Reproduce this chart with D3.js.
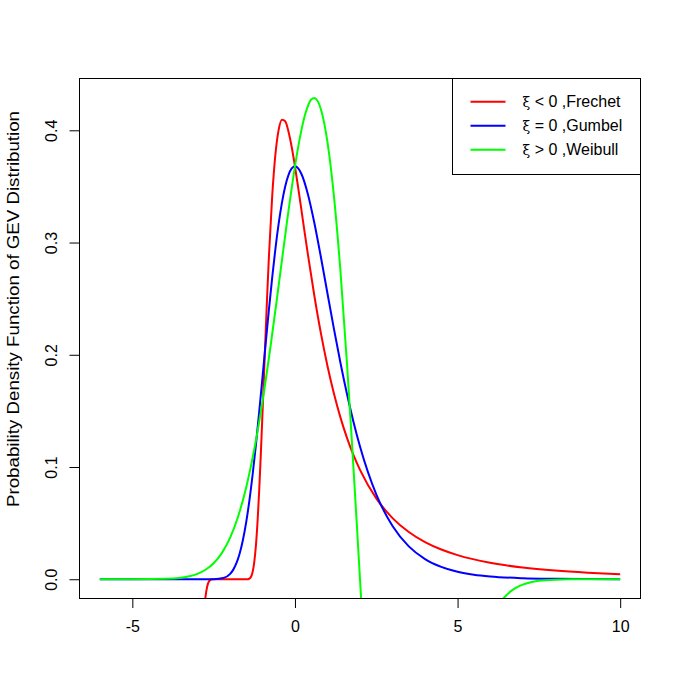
<!DOCTYPE html>
<html>
<head>
<meta charset="utf-8">
<script src="https://cdn.jsdelivr.net/npm/d3@7"></script>
<style>
  html, body { margin: 0; padding: 0; background: #ffffff; }
  svg { display: block; }
  text { font-family: "Liberation Sans", Arial, sans-serif; font-size: 16px; fill: #000; }
</style>
</head>
<body>
<div id="chart"></div>
<script>
// ---------- data ----------
const xTicks = [-5, 0, 5, 10];
const yTicks = [0.0, 0.1, 0.2, 0.3, 0.4];
const xLim = [-6, 10];
const yLim = [0, 0.429];

const frechetX = [-6, -5, -4, -3.5, -3, -2.9, -2.8, -2.75, -2.7, -2.65, -2.6, -2.55, -2.5, -2.4, -2, -1.6, -1.5, -1.45, -1.4, -1.35, -1.3, -1.25, -1.2, -1.15, -1.1, -1.05, -1.0, -0.95, -0.9, -0.85, -0.8, -0.7, -0.6, -0.5, -0.4, -0.3, -0.2, -0.1, 0, 0.1, 0.2, 0.3, 0.4, 0.6, 0.8, 1.0, 1.2, 1.4, 1.6, 1.8, 2.0, 2.5, 3, 3.5, 4, 4.5, 5, 6, 7, 8, 9, 10];
const frechetY = [-0.0974, -0.19, -0.3679, -0.4006, -0.1465, -0.0787, -0.0302, -0.01548, -0.00665, -0.00225, -0.00055, -0.000087, -0.000007, 0, 0, 0, 0.000007, 0.000087, 0.00055, 0.00225, 0.00665, 0.01548, 0.0302, 0.05136, 0.0787, 0.111, 0.1465, 0.1834, 0.2204, 0.2555, 0.2879, 0.3412, 0.3787, 0.4006, 0.4094, 0.4081, 0.399, 0.3851, 0.3679, 0.3487, 0.3288, 0.3087, 0.289, 0.2519, 0.2188, 0.19, 0.1652, 0.144, 0.126, 0.1105, 0.0974, 0.0721, 0.0545, 0.0421, 0.0331, 0.0265, 0.0215, 0.01468, 0.01045, 0.00769, 0.00582, 0.0045];

const gumbelX = [-6, -4, -3, -2.5, -2.2, -2, -1.9, -1.8, -1.7, -1.6, -1.5, -1.4, -1.3, -1.2, -1.1, -1.0, -0.9, -0.8, -0.7, -0.6, -0.5, -0.4, -0.3, -0.2, -0.1, 0, 0.1, 0.2, 0.4, 0.6, 0.8, 1.0, 1.2, 1.4, 1.6, 1.8, 2.0, 2.5, 3, 3.5, 4, 4.5, 5, 5.5, 6, 7, 8, 9, 10];
const gumbelY = [0, 0, 0.00000004, 0.000062, 0.00109, 0.00457, 0.00835, 0.01426, 0.02297, 0.035, 0.0507, 0.0703, 0.09355, 0.12, 0.1489, 0.1794, 0.2102, 0.2404, 0.2688, 0.2946, 0.317, 0.3356, 0.35, 0.3601, 0.366, 0.3679, 0.3661, 0.3611, 0.3429, 0.317, 0.2867, 0.2546, 0.2229, 0.1927, 0.165, 0.1401, 0.1182, 0.0756, 0.0474, 0.0293, 0.018, 0.011, 0.00669, 0.00407, 0.00248, 0.00091, 0.000335, 0.000123, 0.0000454];

const weibullX = [-6, -5, -4, -3.5, -3.25, -3, -2.75, -2.5, -2.25, -2, -1.75, -1.5, -1.25, -1, -0.75, -0.5, -0.25, 0, 0.1, 0.2, 0.3, 0.4, 0.5, 0.6, 0.7, 0.8, 0.9, 1.0, 1.2, 1.4, 1.6, 1.75, 1.9, 2.0, 2.1, 2.25, 2.5, 3, 4, 5, 5.5, 6, 6.25, 6.5, 6.75, 7, 7.25, 7.5, 8, 8.5, 9, 10];
const weibullY = [0, 0.000017, 0.00037, 0.00143, 0.00267, 0.00483, 0.00843, 0.01424, 0.02325, 0.0366, 0.0557, 0.0818, 0.1159, 0.1581, 0.2076, 0.262, 0.3174, 0.3679, 0.3853, 0.4004, 0.4127, 0.4218, 0.4274, 0.4288, 0.426, 0.4186, 0.4064, 0.3894, 0.3409, 0.2742, 0.1922, 0.1231, 0.0499, 0, -0.0499, -0.1231, -0.2348, -0.3894, -0.3679, -0.1581, -0.0818, -0.0366, -0.02325, -0.01424, -0.00843, -0.00483, -0.00267, -0.00143, -0.00037, -0.000084, -0.000017, 0];

const seriesNames = ["Frechet", "Gumbel", "Weibull"];
const seriesRel = ["<", "=", ">"];
const seriesColors = ["#ff0000", "#0000ff", "#00ff00"];
const yTitle = "Probability Density Function of GEV Distribution";

// ---------- layout ----------
const W = 681, H = 696;
const box = { left: 79, right: 641, top: 78.5, bottom: 598.5 };

const svg = d3.select("#chart").append("svg").attr("width", W).attr("height", H);

function expand(lim) { const d = (lim[1] - lim[0]) * 0.04; return [lim[0] - d, lim[1] + d]; }

const x = d3.scaleLinear().domain(expand(xLim)).range([box.left, box.right]);
const y = d3.scaleLinear().domain(expand(yLim)).range([box.bottom, box.top]);

svg.append("clipPath").attr("id", "plotclip")
  .append("rect").attr("x", box.left).attr("y", box.top)
  .attr("width", box.right - box.left).attr("height", box.bottom - box.top);

const line = d3.line().x(d => x(d[0])).y(d => y(d[1])).curve(d3.curveMonotoneX);

const series = [
  { xs: frechetX, ys: frechetY, color: seriesColors[0] },
  { xs: gumbelX, ys: gumbelY, color: seriesColors[1] },
  { xs: weibullX, ys: weibullY, color: seriesColors[2] }
];

const g = svg.append("g").attr("clip-path", "url(#plotclip)");
series.forEach(s => {
  g.append("path")
    .datum(s.xs.map((v, i) => [v, s.ys[i]]))
    .attr("fill", "none")
    .attr("stroke", s.color)
    .attr("stroke-width", 2)
    .attr("stroke-linejoin", "round")
    .attr("d", line);
});

// plot box
svg.append("rect")
  .attr("x", box.left + 0.5).attr("y", box.top)
  .attr("width", box.right - box.left - 1).attr("height", box.bottom - box.top)
  .attr("fill", "none").attr("stroke", "#000").attr("stroke-width", 1);

// x axis
const xAxis = d3.axisBottom(x).tickValues(xTicks).tickSize(9.5).tickPadding(13).tickFormat(d => String(d));
const gx = svg.append("g").attr("transform", `translate(0,${box.bottom})`).call(xAxis);
gx.select(".domain").remove();
gx.selectAll(".tick line").attr("stroke", "#000");
gx.selectAll(".tick text").style("font-family", "'Liberation Sans', Arial, sans-serif").style("font-size", "16px").attr("fill", "#000");

// y axis
const yAxis = d3.axisLeft(y).tickValues(yTicks).tickSize(10).tickFormat(d => d.toFixed(1));
const gy = svg.append("g").attr("transform", `translate(${box.left + 0.5},0)`).call(yAxis);
gy.select(".domain").remove();
gy.selectAll(".tick line").attr("stroke", "#000");
gy.selectAll(".tick text")
  .attr("x", null).attr("dy", null)
  .attr("text-anchor", "middle")
  .attr("transform", "translate(-22.5,0) rotate(-90)")
  .style("font-family", "'Liberation Sans', Arial, sans-serif").style("font-size", "16px").attr("fill", "#000");

// y title
svg.append("text")
  .attr("transform", `translate(18.5,${309}) rotate(-90)`)
  .attr("text-anchor", "middle")
  .attr("textLength", 396)
  .attr("lengthAdjust", "spacingAndGlyphs")
  .text(yTitle);

// legend
const leg = { left: 452.5, top: 78.5, right: 640.5, bottom: 174.5 };
svg.append("rect")
  .attr("x", leg.left).attr("y", leg.top)
  .attr("width", leg.right - leg.left).attr("height", leg.bottom - leg.top)
  .attr("fill", "#fff").attr("stroke", "#000").attr("stroke-width", 1);

const rowY = d3.scaleLinear().domain([0, 2]).range([101.7, 149.7]);
seriesNames.forEach((name, i) => {
  const yy = rowY(i);
  svg.append("line")
    .attr("x1", 470.5).attr("x2", 505.5).attr("y1", yy).attr("y2", yy)
    .attr("stroke", seriesColors[i]).attr("stroke-width", 2);
  const t = svg.append("text").attr("x", 522.5).attr("y", yy).attr("dy", "0.36em");
  t.append("tspan").style("font-family", "'DejaVu Serif', 'Liberation Serif', serif").style("font-size", "14px").text("ξ");
  t.append("tspan").text(" " + seriesRel[i] + " 0 ," + name);
});
</script>
</body>
</html>
